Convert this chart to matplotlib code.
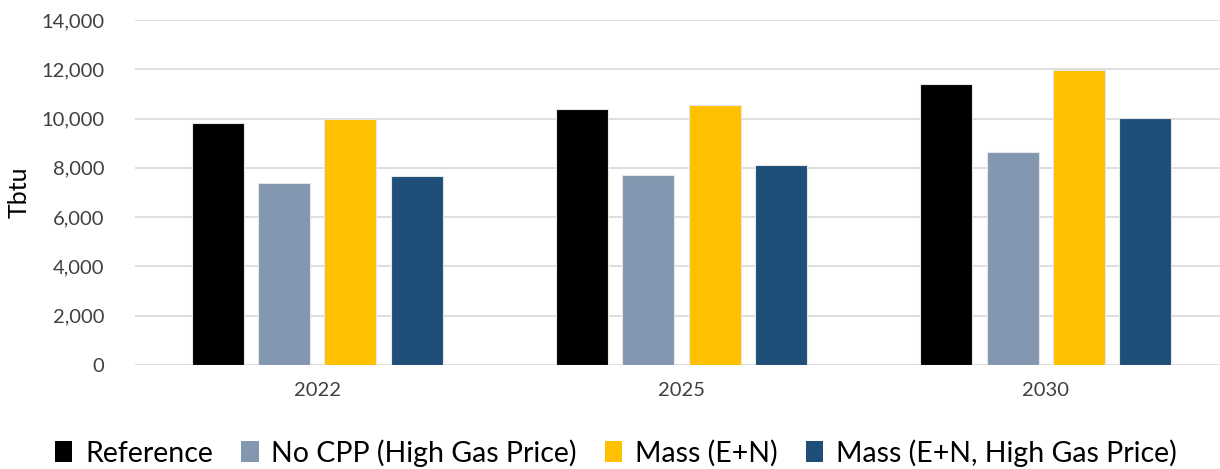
import numpy as np
import matplotlib
matplotlib.use("Agg")
from matplotlib import pyplot as plt
from matplotlib.patches import Patch

years = ["2022", "2025", "2030"]
series_names = ["Reference", "No CPP (High Gas Price)", "Mass (E+N)",
                "Mass (E+N, High Gas Price)"]
reference = [9810, 10380, 11400]
no_cpp_hgp = [7390, 7700, 8640]
mass_en = [9980, 10540, 11990]
mass_en_hgp = [7650, 8120, 10020]
colors = ["#000000", "#8497B0", "#FFC000", "#1F4E79"]

plt.rcParams['font.family'] = ['Lato', 'DejaVu Sans']

fig = plt.figure(figsize=(12.2, 4.69), dpi=100)
ax = fig.add_axes([135 / 1220, 104 / 469, 1093 / 1220, 345 / 469])

x = np.arange(len(years))
width = 0.143
step = 0.182
for i, (vals, c) in enumerate(zip([reference, no_cpp_hgp, mass_en, mass_en_hgp], colors)):
    ax.bar(x + (i - 1.5) * step, vals, width, color=c, edgecolor="#E6E6E6",
           linewidth=0.8, zorder=3)

ax.set_xlim(-0.5, 2.5)
ax.set_ylim(0, 14000)
ax.set_yticks(range(0, 14001, 2000))
ax.set_yticklabels([f"{v:,}" for v in range(0, 14001, 2000)], fontsize=14.5, color="#404040")
ax.set_xticks(x)
ax.set_xticklabels(years, fontsize=14.5, color="#404040")
ax.tick_params(axis="both", length=0)
ax.tick_params(axis="y", pad=22)
ax.tick_params(axis="x", pad=12)
ax.grid(axis="y", color="#D9D9D9", linewidth=1.2, zorder=0)
for s in ax.spines.values():
    s.set_visible(False)
ax.set_ylabel("Tbtu", fontsize=18, color="#000000", labelpad=8)

handles = [Patch(facecolor=c, edgecolor="none") for c in colors]
fig.legend(handles, series_names, loc="center", bbox_to_anchor=(0.505, 16 / 469),
           ncol=4, frameon=False, fontsize=20.5, handlelength=0.6, handleheight=0.75,
           handletextpad=0.45, columnspacing=1.0)

fig.savefig("out.png", dpi=100)
